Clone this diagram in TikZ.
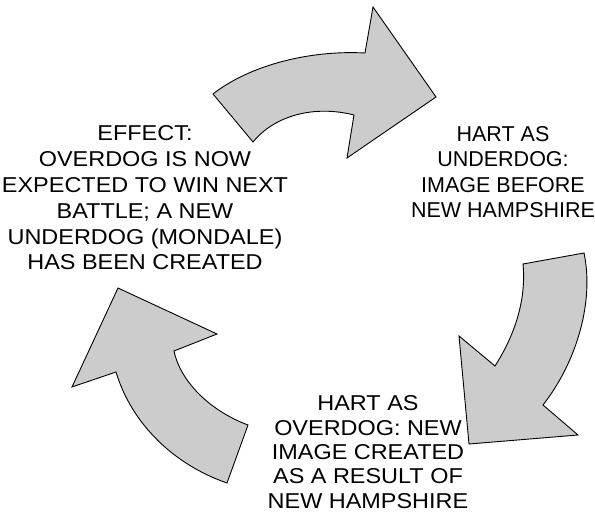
\documentclass[tikz,border=0pt]{standalone}
\usepackage{fontspec}
\setmainfont{Liberation Sans}
\newfontfamily\widesans[FakeStretch=1.09]{Liberation Sans}
\begin{document}
\begin{tikzpicture}[x=1pt,y=-1pt,
  cyclearrow/.style={draw=black,fill=black!20,line width=0.9pt,line join=miter},
  label/.style={align=center,inner sep=0pt,font=\fontsize{21.5}{25.5}\selectfont}]
\useasboundingbox (0,0) rectangle (595,513);
% top arrow, pointing right
\draw[cyclearrow] (213,94) .. controls (250,65) and (310,50) .. (365,53)
  -- (373,7) -- (436,97) -- (347,158) -- (354,115)
  .. controls (315,105) and (275,115) .. (253,142) -- cycle;
% right arrow, pointing down
\draw[cyclearrow] (584,253) .. controls (594,300) and (578,360) .. (543,405)
  -- (578,435) -- (469,444) -- (459,336) -- (495,366)
  .. controls (518,330) and (526,295) .. (523,264) -- cycle;
% left arrow, pointing up
\draw[cyclearrow] (248,425) .. controls (208,410) and (180,380) .. (174,351)
  -- (217,334) -- (118,288) -- (72,387) -- (116,372)
  .. controls (132,425) and (175,465) .. (227,483) -- cycle;
\node[label,font=\widesans\fontsize{21.5}{25.8}\selectfont] (effect) at (145,198) {EFFECT:\\OVERDOG IS NOW\\EXPECTED TO WIN NEXT\\BATTLE; A NEW\\UNDERDOG (MONDALE)\\HAS BEEN CREATED};
\node[label] (under) at (503,172) {HART AS\\UNDERDOG:\\IMAGE BEFORE\\NEW HAMPSHIRE};
\node[label,font=\widesans\fontsize{21.5}{24.3}\selectfont] (over) at (368,452) {HART AS\\OVERDOG: NEW\\IMAGE CREATED\\AS A RESULT OF\\NEW HAMPSHIRE};
\end{tikzpicture}
\end{document}
